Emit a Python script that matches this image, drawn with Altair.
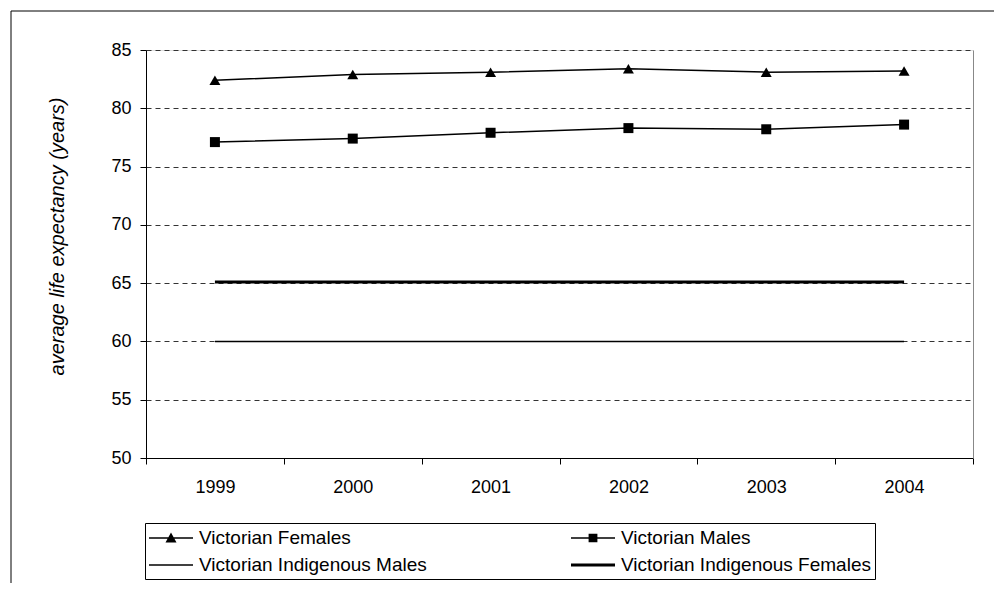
import altair as alt
import pandas as pd

years = ["1999", "2000", "2001", "2002", "2003", "2004"]
vic_females = [82.4, 82.9, 83.1, 83.4, 83.1, 83.2]
vic_males = [77.1, 77.4, 77.9, 78.3, 78.2, 78.6]
indig_males = [60.0, 60.0, 60.0, 60.0, 60.0, 60.0]
indig_females = [65.1, 65.1, 65.1, 65.1, 65.1, 65.1]

series_names = [
    "Victorian Females",
    "Victorian Males",
    "Victorian Indigenous Males",
    "Victorian Indigenous Females",
]
series_values = [vic_females, vic_males, indig_males, indig_females]
# legend is laid out column by column
legend_order = [
    "Victorian Females",
    "Victorian Indigenous Males",
    "Victorian Males",
    "Victorian Indigenous Females",
]

rows = []
for name, vals in zip(series_names, series_values):
    for yr, v in zip(years, vals):
        rows.append({"year": yr, "series": name, "value": v})
df = pd.DataFrame(rows)
legend_df = pd.DataFrame({"series": legend_order})

FONT = "Liberation Sans"

x_enc = alt.X(
    "year:N",
    sort=years,
    scale=alt.Scale(type="band", paddingInner=0, paddingOuter=0),
    axis=alt.Axis(
        title=None,
        tickBand="extent",
        labelAngle=0,
        labelFontSize=18,
        labelFont=FONT,
        labelColor="black",
        labelPadding=14,
        tickSize=6,
        tickColor="black",
        domainColor="black",
        grid=False,
    ),
)
y_scale = alt.Scale(domain=[50, 85], nice=False, zero=False)
y_enc = alt.Y(
    "value:Q",
    scale=y_scale,
    axis=alt.Axis(
        title="average life expectancy (years)",
        titleFont=FONT,
        titleFontSize=20,
        titleFontStyle="italic",
        titleFontWeight="normal",
        titleColor="black",
        titleAngle=270,
        titleX=-89,
        titleY=186,
        titleAlign="center",
        titleBaseline="middle",
        values=[50, 55, 60, 65, 70, 75, 80, 85],
        labelFontSize=18,
        labelFont=FONT,
        labelColor="black",
        labelPadding=9,
        tickSize=6,
        tickColor="black",
        domainColor="black",
        grid=True,
        gridColor="#333333",
        gridDash=[5, 4],
        gridWidth=1,
    ),
)

base = alt.Chart(df)

thin_lines = base.mark_line(color="black", strokeWidth=1.5).encode(
    x=x_enc, y=y_enc, detail="series:N"
).transform_filter(alt.datum.series != "Victorian Indigenous Females")

thick_line = base.mark_line(color="black", strokeWidth=3).encode(
    x=x_enc, y=y_enc, detail="series:N"
).transform_filter(alt.datum.series == "Victorian Indigenous Females")

tri = base.mark_point(
    shape="triangle-up", filled=True, color="black", opacity=1, size=120
).encode(x=x_enc, y=y_enc).transform_filter(alt.datum.series == "Victorian Females")

sq = base.mark_point(
    shape="square", filled=True, color="black", opacity=1, size=100
).encode(x=x_enc, y=y_enc).transform_filter(alt.datum.series == "Victorian Males")

# filled legend glyphs (a line segment with a marker), in units of r = 11 px
legend_paths = [
    "M-1,-0.06H3V0.06H-1ZM0.5,0.4L1,-0.5L1.5,0.4Z",
    "M-1,-0.06H3V0.06H-1Z",
    "M-1,-0.06H3V0.06H-1ZM0.6,-0.38H1.4V0.38H0.6Z",
    "M-1,-0.14H3V0.14H-1Z",
]

legend_layer = alt.Chart(legend_df).mark_point(
    filled=True, color="black", opacity=1
).encode(
    shape=alt.Shape(
        "series:N",
        sort=legend_order,
        scale=alt.Scale(domain=legend_order, range=legend_paths),
        legend=alt.Legend(
            title=None,
            orient="none",
            legendX=-1,
            legendY=473,
            columns=2,
            columnPadding=144,
            rowPadding=6,
            padding=4,
            strokeColor="black",
            symbolSize=484,
            symbolFillColor="black",
            symbolStrokeColor="black",
            symbolStrokeWidth=0,
            symbolOpacity=1,
            labelFont=FONT,
            labelFontSize=19,
            labelColor="black",
            labelOffset=28,
            labelLimit=500,
        ),
    )
).transform_filter("false")

main = alt.layer(thin_lines, thick_line, tri, sq, legend_layer)

right_edge = base.mark_line(opacity=0).encode(
    x=x_enc,
    y=alt.Y(
        "value:Q",
        scale=y_scale,
        axis=alt.Axis(
            orient="right",
            title=None,
            labels=False,
            ticks=False,
            grid=False,
            domainColor="#888888",
        ),
    ),
    detail="series:N",
)

frame_df = pd.DataFrame({"k": [0]})
frame_top = alt.Chart(frame_df).mark_rule(color="black", strokeWidth=1).encode(
    x=alt.value(-135), x2=alt.value(900), y=alt.value(-39)
)
frame_left = alt.Chart(frame_df).mark_rule(color="black", strokeWidth=1).encode(
    x=alt.value(-135), y=alt.value(-39), y2=alt.value(600)
)

chart = (
    alt.layer(main, right_edge, frame_top, frame_left)
    .resolve_axis(y="independent")
    .properties(
        width=827,
        height=408,
        autosize=alt.AutoSizeParams(type="none"),
        padding={"left": 138, "top": 42, "right": 21, "bottom": 125},
    )
    .configure_view(stroke=None)
    .configure(background="white")
)

chart.save("out.html", embed_options={"renderer": "svg", "actions": False})
